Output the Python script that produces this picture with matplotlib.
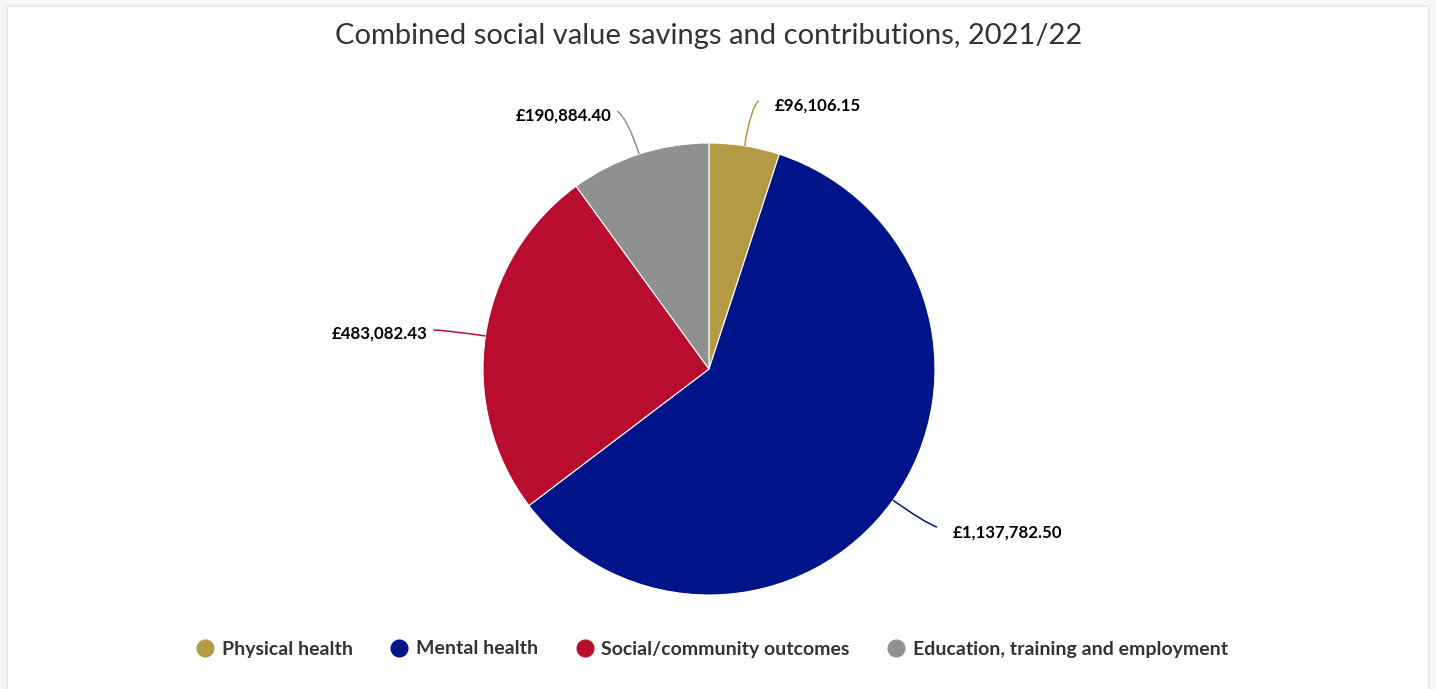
import numpy as np
import matplotlib
matplotlib.use('Agg')
import matplotlib.pyplot as plt
from matplotlib.path import Path
from matplotlib.patches import PathPatch, Rectangle
from matplotlib.lines import Line2D

# dados
categorias = ['Physical health', 'Mental health', 'Social/community outcomes',
              'Education, training and employment']
valores = [96106.15, 1137782.50, 483082.43, 190884.40]
rotulos = ['£96,106.15', '£1,137,782.50', '£483,082.43', '£190,884.40']
cores = ['#b59a45', '#00148a', '#b90d2f', '#8f908f']

titulo = 'Combined social value savings and contributions, 2021/22'

plt.rcParams['font.family'] = ['Lato', 'DejaVu Sans']

# figura em pixels
W, H = 1436, 689
fig = plt.figure(figsize=(W / 100, H / 100), dpi=100, facecolor='#f7f7f7')
ax = fig.add_axes([0, 0, 1, 1])
ax.set_xlim(0, W)
ax.set_ylim(0, H)
ax.axis('off')

# cartão branco com sombra leve
for i, a in enumerate([0.012, 0.018, 0.025]):
    ax.add_patch(Rectangle((8 - 3 + i, -10), W - 16 + 6 - 2 * i, H - 7 + 13 - i,
                           facecolor='black', alpha=a, edgecolor='none', zorder=0))
ax.add_patch(Rectangle((8, -10), W - 16, H - 7 + 10, facecolor='white',
                       edgecolor='none', zorder=0.5))

# pizza
centro = (709, H - 369)
raio = 226
wedges, _ = ax.pie(valores, colors=cores, startangle=90, counterclock=False,
                   center=centro, radius=raio, frame=True,
                   wedgeprops=dict(edgecolor='white', linewidth=0.8))
for w in wedges:
    w.set_zorder(2)
ax.set_xlim(0, W)
ax.set_ylim(0, H)
ax.set_aspect('equal')
ax.axis('off')

# fim do conector em relação à borda da fatia (pixels)
desloc_conector = [(14, 45), (44, -27), (-52, 6), (-22, 43)]

for w, rot, cor, (dx, dy) in zip(wedges, rotulos, cores, desloc_conector):
    ang = np.deg2rad((w.theta1 + w.theta2) / 2)
    ux, uy = np.cos(ang), np.sin(ang)
    bx, by = centro[0] + raio * ux, centro[1] + raio * uy
    cx, cy = bx + 38 * ux, by + 38 * uy
    ex, ey = bx + dx, by + dy
    caminho = Path([(bx, by), (cx, cy), (ex, ey)],
                   [Path.MOVETO, Path.CURVE3, Path.CURVE3])
    ax.add_patch(PathPatch(caminho, fill=False, edgecolor=cor, linewidth=1.1, zorder=3))
    if ux >= 0:
        ax.text(ex + 16, ey - 5, rot, ha='left', va='center', fontsize=12.2,
                fontweight='bold', color='black', zorder=4)
    else:
        ax.text(ex - 6, ey - 4, rot, ha='right', va='center', fontsize=12.2,
                fontweight='bold', color='black', zorder=4)

# título
ax.text(709, H - 36, titulo, ha='center', va='center', fontsize=21,
        color='#333333', zorder=4)

# legenda
marcadores = [Line2D([], [], marker='o', linestyle='', markersize=12,
                     markerfacecolor=c, markeredgecolor=c) for c in cores]
fig.legend(marcadores, categorias, loc='center', ncol=4, frameon=False,
           bbox_to_anchor=(713 / W, (H - 649) / H),
           prop={'weight': 'bold', 'size': 14}, labelcolor='#333333',
           handlelength=0.7, handletextpad=0.5, columnspacing=2.05)

plt.savefig('out.png', dpi=100, facecolor=fig.get_facecolor())
